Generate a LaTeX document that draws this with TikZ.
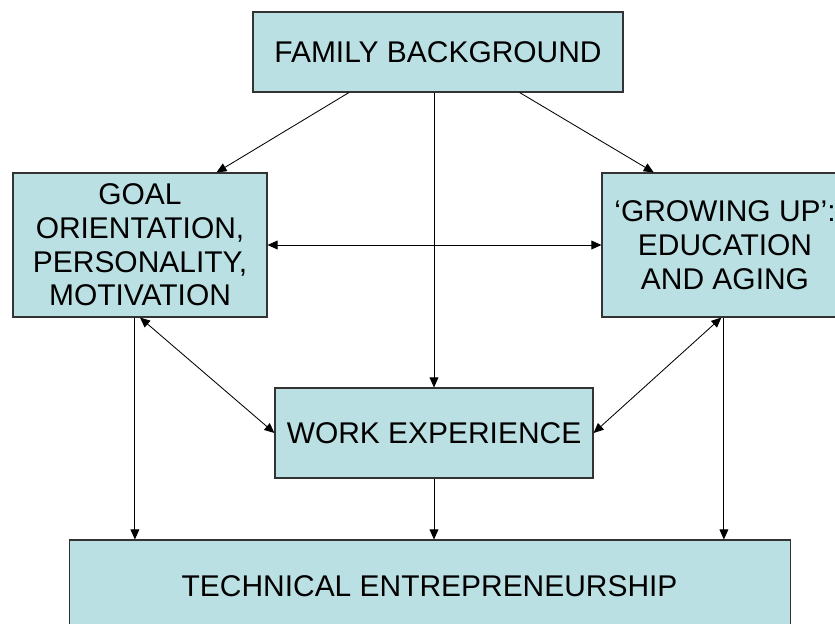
\documentclass[tikz,border=0pt]{standalone}
\usepackage{fontspec}
\setmainfont{Liberation Sans}
\usepackage{xcolor}
\usetikzlibrary{shapes,positioning,calc,arrows.meta}
\definecolor{boxfill}{HTML}{BBE0E3}
\tikzset{blk/.style={rectangle,draw=black!80,line width=0.8pt,fill=boxfill,align=center,inner sep=0pt,font=\fontsize{21.3}{24}\selectfont}}

\begin{document}
\begin{tikzpicture}[>={Triangle[length=2.5mm,width=2.2mm]},line width=0.6pt]
    \useasboundingbox (0,0) rectangle (20.875,15.575);

    \node[blk,minimum width=9.25cm,minimum height=2cm] (fam) at (10.95,14.275) {FAMILY BACKGROUND};
    \node[blk,minimum width=6.35cm,minimum height=3.6cm] (goal) at (3.5,9.45) {GOAL\\ORIENTATION,\\PERSONALITY,\\MOTIVATION};
    \node[blk,minimum width=6.35cm,minimum height=3.6cm] (grow) at (18.225,9.45) {\kern-0.2cm`GROWING UP':\\\kern-0.2cm EDUCATION\\\kern-0.2cm AND AGING};
    \node[blk,minimum width=7.95cm,minimum height=2.25cm] (work) at (10.85,4.75) {WORK EXPERIENCE};
    \node[blk,minimum width=18.025cm,minimum height=2.3cm] (tech) at (10.74,0.925) {TECHNICAL ENTREPRENEURSHIP};

    \draw [->] ($(fam.south west)!.26!(fam.south east)$) to ($(goal.north west)!.8!(goal.north east)$);
    \draw [->] ($(fam.south west)!.72!(fam.south east)$) to ($(grow.north west)!.205!(grow.north east)$);
    \draw [->] (fam.south -| work.north) to (work.north);
    \draw [<->] (goal.east) to (grow.west);
    \draw [<->] (goal.south) to (work.west);
    \draw [<->] ($(grow.south west)!.47!(grow.south east)$) to (work.east);
    \draw [->] ($(goal.south west)!.48!(goal.south east)$) coordinate (g1) to (g1 |- tech.north);
    \draw [->] (work.south) to (work.south |- tech.north);
    \draw [->] ($(grow.south west)!.48!(grow.south east)$) coordinate (g2) to (g2 |- tech.north);
\end{tikzpicture}
\end{document}
